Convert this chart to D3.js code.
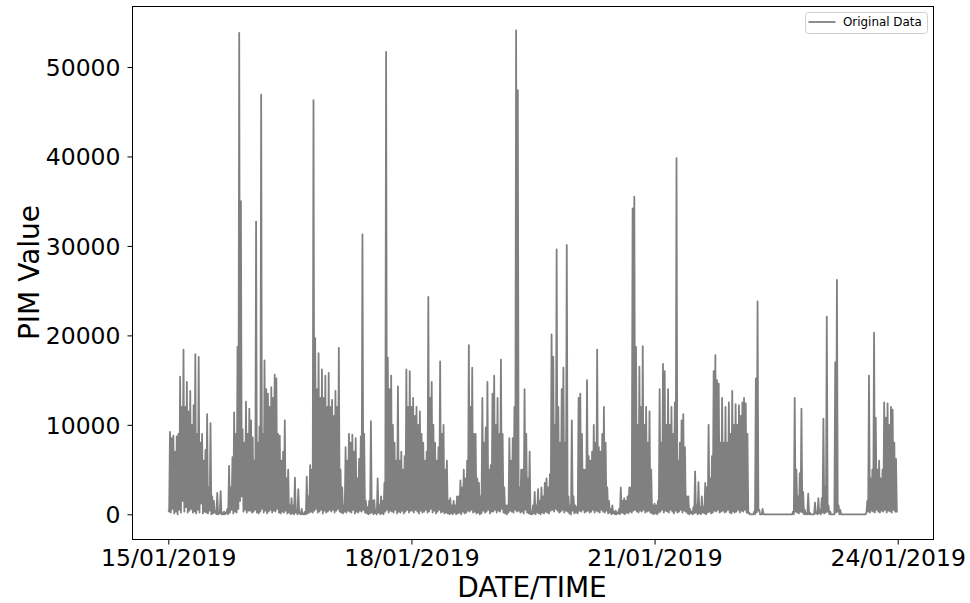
<!DOCTYPE html>
<html>
<head>
<meta charset="utf-8">
<script src="https://cdn.jsdelivr.net/npm/d3@7"></script>
<style>
  body { margin: 0; background: #fff; }
  svg text { font-family: "DejaVu Sans", sans-serif; fill: #000; }
</style>
</head>
<body>
<svg id="chart" width="970" height="603"></svg>
<script>
// PIM readings every 15 minutes (UTC). For each day:
//   pimDDMain -> readings at hh:00 and hh:30 (48 values)
//   pimDDMid  -> readings at hh:15 and hh:45 (48 values)
const firstDay = "2019-01-15";

const pim15Main = [500,9200,8500,8800,7000,8700,9000,15400,12000,18400,12000,14800,11500,13800,10000,12200,17900,9000,17600,8000,9000,6000,7200,11200,3000,10200,2000,1500,300,2400,200,2600,100,300,200,600,5400,3000,6400,11400,9000,18700,53800,35000,9500,8000,12600,9000];
const pim15Mid  = [300,200,600,100,300,0,500,200,1500,300,800,200,400,600,200,300,100,500,200,1200,100,300,200,100,400,0,100,200,0,0,100,0,0,0,100,0,200,500,100,300,200,600,1500,2000,300,500,200,400];

const pim16Main = [11800,10500,8600,6000,32700,8000,9800,46900,9000,17200,14000,13500,12000,14200,13000,15600,15200,9000,8800,6000,7000,10500,4000,5000,1000,1800,1000,4100,500,2800,200,600,100,300,4200,2000,5500,5000,46300,19700,14000,18000,13000,16200,13000,15500,12000,15800];
const pim16Mid  = [400,200,300,500,200,100,300,600,200,400,100,300,500,200,400,300,600,200,100,300,200,400,100,200,0,100,0,200,0,100,0,0,0,0,100,200,300,200,400,600,200,300,500,100,400,200,300,500];

const pim17Main = [12000,12800,11000,13800,12000,18600,5000,3000,1000,7500,6000,9000,8000,8900,7000,8500,4000,6200,8700,31300,9000,1500,800,1500,10400,1500,1600,500,4000,1000,2000,1500,3500,51700,17500,14000,15500,10000,8000,6000,14300,6000,7000,5000,6500,16200,12000,16000];
const pim17Mid  = [300,500,200,400,600,300,200,100,300,200,400,300,200,500,100,300,200,400,300,500,200,100,0,100,200,0,100,0,200,0,100,0,300,500,200,400,300,200,500,100,300,200,400,100,300,500,200,400];

const pim18Main = [12000,13000,11000,12000,10000,11500,9000,8000,6000,7000,24300,13000,14800,10000,8000,6000,7500,17100,9000,10000,5000,6000,1500,1800,1000,1500,1000,2000,2000,3800,3000,5000,4000,6000,18900,12000,16400,9000,9000,4000,3500,2000,13000,8000,9700,14800,5000,5500];
const pim18Mid  = [400,200,500,300,100,400,200,300,500,200,300,600,200,400,100,300,500,200,300,100,200,100,0,100,0,200,0,100,200,0,300,100,200,400,300,500,200,300,100,200,0,100,400,200,300,500,100,300];

const pim19Main = [13500,15500,10000,13000,9000,17300,9000,3000,1000,1000,8500,6000,8500,12000,54100,47400,3000,5000,5000,14000,9000,4000,7000,300,1000,2500,1000,2800,1500,3000,2000,3500,4000,3000,4500,20100,17600,10000,29600,12000,8000,14000,16400,8000,30100,2000,1000,10500];
const pim19Mid  = [300,500,200,400,300,600,200,100,0,200,400,300,200,500,300,400,200,300,100,500,200,100,0,0,100,0,200,100,0,200,100,300,200,100,400,500,300,600,400,200,300,500,200,400,300,100,0,400];

const pim20Main = [2000,1000,800,13000,13500,9000,5000,5000,15000,6500,6000,7000,10000,8000,18400,7500,7000,9000,12000,8000,3000,1500,600,1000,300,400,200,600,3000,1500,1800,1500,2000,3000,3000,34200,35500,18700,10000,16500,12000,18800,10000,12000,8000,11500,5000,1000];
const pim20Mid  = [100,200,100,400,300,500,200,300,400,200,300,500,200,400,300,200,500,300,200,400,100,200,0,100,0,0,100,0,200,100,0,200,100,300,200,400,500,300,200,400,300,500,200,300,400,200,100,0];

const pim21Main = [1200,1000,1500,14000,8000,16800,16000,10000,14000,10000,12000,9000,12500,39800,6000,8000,10500,11200,7500,2000,2000,600,300,800,4800,1000,3600,800,2000,800,3500,3000,10000,4000,6500,16000,17800,15000,14600,8000,13000,8000,12000,8000,12500,9000,13800,10000];
const pim21Mid  = [100,0,200,300,500,200,400,300,200,500,300,100,400,200,300,500,200,400,300,100,0,100,0,100,200,0,100,0,200,100,0,200,300,100,200,400,300,500,200,300,400,200,300,500,200,100,300,200];

const pim22Main = [12300,10000,12200,11000,12500,13000,12400,9000,200,0,0,300,15200,23800,500,0,600,0,0,0,0,0,0,0,0,0,0,0,0,0,0,0,0,0,300,13000,5000,2000,4600,11800,2500,500,100,2300,200,0,0,1300];
const pim22Mid  = [300,500,200,400,300,500,200,100,0,0,0,0,200,400,0,0,0,0,0,0,0,0,0,0,0,0,0,0,0,0,0,0,0,0,0,300,200,100,300,200,0,0,0,0,0,0,0,100];

const pim23Main = [200,1800,500,1800,10700,3000,22100,1000,300,0,0,17000,26200,1000,500,0,0,0,0,0,0,0,0,0,0,0,0,0,0,0,1500,15500,4000,5000,20300,10800,5000,6000,4000,5000,12500,10800,12400,10000,12000,11700,8000,6200];
const pim23Mid  = [0,100,0,200,100,200,300,0,0,0,0,200,300,0,0,0,0,0,0,0,0,0,0,0,0,0,0,0,0,200,300,200,400,300,200,500,300,200,400,300,500,200,400,300,200,500,300,200];

const xTickDays = ["2019-01-15", "2019-01-18", "2019-01-21", "2019-01-24"];
const yTickValues = [0, 10000, 20000, 30000, 40000, 50000];
const seriesLabel = "Original Data";
const xTitle = "DATE/TIME";
const yTitle = "PIM Value";

// ---- build the time series ----
const parseDay = d3.utcParse("%Y-%m-%d");
const day0 = parseDay(firstDay);
const dayPairs = [
  [pim15Main, pim15Mid], [pim16Main, pim16Mid], [pim17Main, pim17Mid],
  [pim18Main, pim18Mid], [pim19Main, pim19Mid], [pim20Main, pim20Mid],
  [pim21Main, pim21Mid], [pim22Main, pim22Mid], [pim23Main, pim23Mid]
];
const series = [];
dayPairs.forEach(([main, mid], d) => {
  const dayStart = d3.utcDay.offset(day0, d);
  main.forEach((v, i) => {
    const t = d3.utcMinute.offset(dayStart, i * 30);
    series.push({ t, v });
    series.push({ t: d3.utcMinute.offset(t, 15), v: mid[i] });
  });
});
const xTicks = xTickDays.map(parseDay);

// ---- layout ----
const svg = d3.select("#chart");
const frame = { left: 132.5, right: 933.5, top: 6.5, bottom: 539.5 };
const lineColor = "#808080";

const x = d3.scaleUtc()
  .domain([xTicks[0], xTicks[xTicks.length - 1]])
  .range([168.3, 897.7]);
const y = d3.scaleLinear()
  .domain([0, 50000])
  .range([514.3, 67]);

// data line
const line = d3.line().x(d => x(d.t)).y(d => y(d.v));
svg.append("path")
  .datum(series)
  .attr("fill", "none")
  .attr("stroke", lineColor)
  .attr("stroke-width", 1.8)
  .attr("stroke-linejoin", "round")
  .attr("d", line);

// x axis
const xAxis = d3.axisBottom(x)
  .tickValues(xTicks)
  .tickFormat(d3.utcFormat("%d/%m/%Y"))
  .tickSize(5)
  .tickPadding(5);
const gx = svg.append("g").attr("transform", `translate(0,${frame.bottom})`).call(xAxis);
gx.select(".domain").remove();
gx.selectAll("line").attr("stroke", "#000").attr("stroke-width", 1);
gx.selectAll("text").attr("font-size", 23.5).attr("font-family", "DejaVu Sans");

// y axis
const yAxis = d3.axisLeft(y)
  .tickValues(yTickValues)
  .tickFormat(d3.format("d"))
  .tickSize(5)
  .tickPadding(7);
const gy = svg.append("g").attr("transform", `translate(${frame.left},0)`).call(yAxis);
gy.select(".domain").remove();
gy.selectAll("line").attr("stroke", "#000").attr("stroke-width", 1);
gy.selectAll("text").attr("font-size", 23.5).attr("dy", "0.36em").attr("font-family", "DejaVu Sans");

// axes frame
svg.append("rect")
  .attr("x", frame.left).attr("y", frame.top)
  .attr("width", frame.right - frame.left)
  .attr("height", frame.bottom - frame.top)
  .attr("fill", "none")
  .attr("stroke", "#000")
  .attr("stroke-width", 1);

// axis titles
svg.append("text")
  .attr("x", (frame.left + frame.right) / 2 - 1)
  .attr("y", 597)
  .attr("text-anchor", "middle")
  .attr("font-size", 28)
  .text(xTitle);
svg.append("text")
  .attr("transform", `translate(39,272.5) rotate(-90)`)
  .attr("text-anchor", "middle")
  .attr("font-size", 28)
  .text(yTitle);

// legend
const lg = svg.append("g").attr("transform", "translate(805.5,12.5)");
lg.append("rect")
  .attr("width", 122).attr("height", 21).attr("rx", 3)
  .attr("fill", "#fff").attr("fill-opacity", 0.8)
  .attr("stroke", "#d0d0d0").attr("stroke-width", 1);
lg.append("line")
  .attr("x1", 3).attr("x2", 30).attr("y1", 9.5).attr("y2", 9.5)
  .attr("stroke", lineColor).attr("stroke-width", 1.8);
lg.append("text")
  .attr("x", 37.5).attr("y", 9.5).attr("dy", "0.36em")
  .attr("font-size", 11.9)
  .text(seriesLabel);
</script>
</body>
</html>
